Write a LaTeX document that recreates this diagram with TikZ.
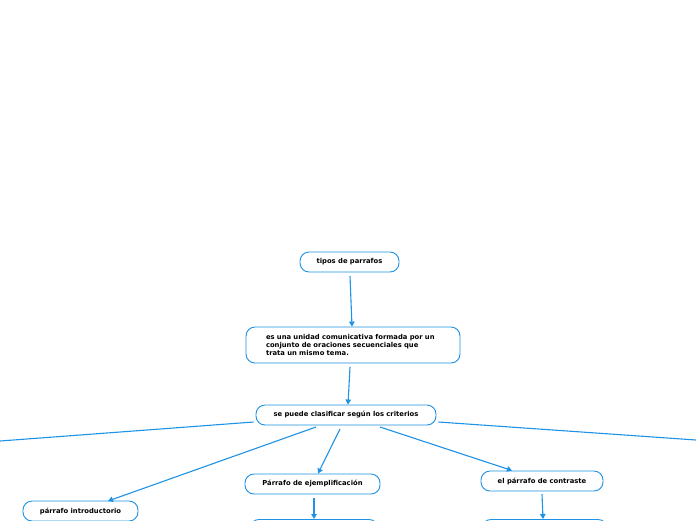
\documentclass[tikz,border=0pt]{standalone}
\usepackage{fontspec}
\setmainfont{DejaVu Sans}
\usepackage{tikz}
\usetikzlibrary{arrows.meta,positioning}
\definecolor{mapblue}{RGB}{30,146,228}
\tikzset{
 map topic/.style={draw=mapblue,line width=0.9pt,rounded corners=9pt,fill=white,
                   minimum height=20pt,inner sep=0pt,font=\fontsize{6.8}{8}\selectfont\bfseries},
 map link/.style={draw=mapblue,line width=1.1pt},
 map arrow/.style={map link,-{Triangle[width=5.5pt,length=5pt]}}
}
\begin{document}
\begin{tikzpicture}[x=1pt,y=-1pt]
 \useasboundingbox (0,0) rectangle (696,520);
 % main chain
 \node[map topic,minimum width=99pt] (tipos) at (349.5,262) {tipos de parrafos};
 \node[map topic,minimum height=36pt,align=left,text width=174pt,
       inner xsep=20pt] (unidad) at (353,345)
   {es una unidad comunicativa formada por un\\conjunto de oraciones secuenciales que\\trata un mismo tema.};
 \node[map topic,minimum width=180pt] (criterios) at (346,415) {se puede clasificar según los criterios};

 % branches
 \node[map topic,minimum width=115pt] (intro) at (80.5,511) {párrafo introductorio};
 \node[map topic,minimum width=135pt] (ejemplo) at (312.5,484) {Párrafo de ejemplificación};
 \node[map topic,minimum width=122pt] (contraste) at (542,481) {el párrafo de contraste};
 \node[map topic,minimum width=128pt,anchor=north] (ejemplosub) at (314,519) {};
 \node[map topic,minimum width=125pt,anchor=north] (contrastesub) at (544.5,519) {};
 \coordinate (offleft) at (0,441);
 \coordinate (offright) at (696,440);

 \draw[map arrow] (350,276)--(unidad.north -| 352,0);
 \draw[map arrow] (350,367)--(criterios.north -| 348,0);
 \draw[map link] (criterios.west)++(-2,7)--(offleft);
 \draw[map link] (criterios.east)++(2,7)--(offright);
 \draw[map arrow] (316,427)--(108,501);
 \draw[map arrow] (340,429)--(ejemplo.north -| 318,0);
 \draw[map arrow] (380,427)--(512,470.5);
 \draw[map arrow] (314,498)--(ejemplosub.north);
 \draw[map arrow] (542,494)--(contrastesub.north -| 543,0);
\end{tikzpicture}
\end{document}
